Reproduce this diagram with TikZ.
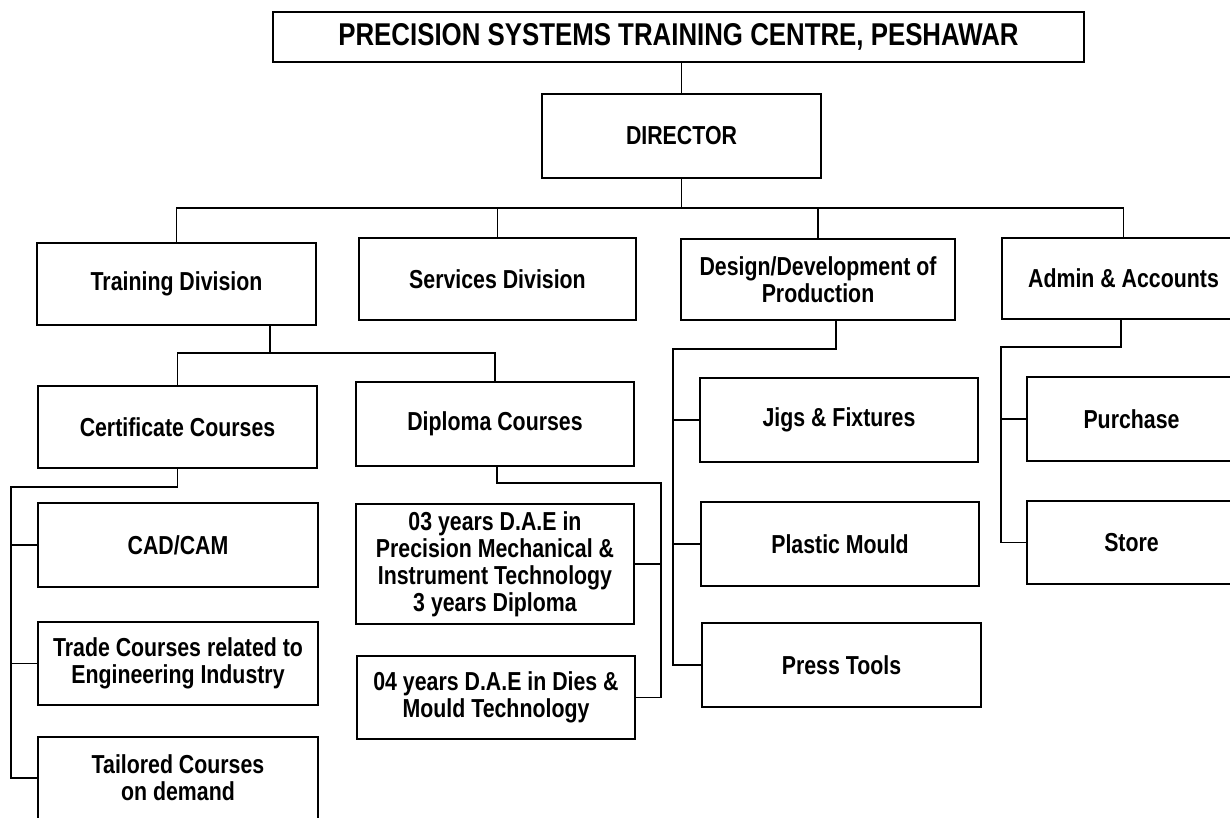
\documentclass[tikz,border=0pt]{standalone}
\usepackage{fontspec}
\setmainfont{Liberation Sans}[FakeStretch=0.82]
\begin{document}
\begin{tikzpicture}[x=1pt,y=-1pt,
  box/.style={draw, line width=1.6pt, inner sep=0pt, align=center,
    font=\bfseries\fontsize{26}{27}\selectfont},
  link/.style={line width=1.6pt}]
\path[use as bounding box, clip] (0,0) rectangle (1230,817);
\fill[white] (0,0) rectangle (1230,817);
% nodes
\node[box, minimum width=811pt, minimum height=50pt, font=\bfseries\fontsize{31.5}{33}\selectfont] (title) at (678.5,37) {PRECISION SYSTEMS TRAINING CENTRE, PESHAWAR};
\node[box, minimum width=279pt, minimum height=84pt] (director) at (681.5,136) {DIRECTOR};
\node[box, minimum width=279pt, minimum height=82pt] (training) at (176.5,284) {Training Division};
\node[box, minimum width=277pt, minimum height=82pt] (services) at (497.5,279) {Services Division};
\node[box, minimum width=274pt, minimum height=81pt] (design) at (818,279.5) {Design/Development of\\Production};
\node[box, minimum width=243pt, minimum height=81pt] (admin) at (1123.5,278.5) {Admin \& Accounts};
\node[box, minimum width=279pt, minimum height=82pt] (cert) at (177.5,427) {Certificate Courses};
\node[box, minimum width=278pt, minimum height=84pt] (dipl) at (495,424) {Diploma Courses};
\node[box, minimum width=280pt, minimum height=84pt] (cad) at (178,545) {CAD/CAM};
\node[box, minimum width=280pt, minimum height=83pt] (trade) at (178,663.5) {Trade Courses related to\\Engineering Industry};
\node[box, minimum width=280pt, minimum height=82pt] (tailored) at (178,778) {Tailored Courses\\on demand};
\node[box, minimum width=278pt, minimum height=120pt] (d03) at (495,564) {03 years D.A.E in\\Precision Mechanical \&\\Instrument Technology\\3 years Diploma};
\node[box, minimum width=278pt, minimum height=83pt] (d04) at (496,697.5) {04 years D.A.E in Dies \&\\Mould Technology};
\node[box, minimum width=278pt, minimum height=84pt] (jigs) at (839,420) {Jigs \& Fixtures};
\node[box, minimum width=278pt, minimum height=84pt] (plastic) at (840,544) {Plastic Mould};
\node[box, minimum width=279pt, minimum height=84pt] (press) at (841.5,665) {Press Tools};
\node[box, minimum width=209pt, minimum height=84pt] (purchase) at (1131.5,419) {Purchase};
\node[box, minimum width=209pt, minimum height=83pt] (store) at (1131.5,542.5) {Store};
% junction coordinates
\coordinate (b1) at (681.5,208);
\coordinate (t1) at (270,353);
\coordinate (c1) at (11,487);
\coordinate (d0) at (497,483);
\coordinate (d1) at (661,483);
\coordinate (e0) at (836,349);
\coordinate (e1) at (673,349);
\coordinate (a1) at (1001,347);
\coordinate (a0) at (1121,347);
% connectors
\draw[link] (director.north) -- (director.north |- title.south);
\draw[link] (director.south) -- (b1);
\draw[link] (training.north) -- (training.north |- b1) -- (admin.north |- b1) -- (admin.north);
\draw[link] (services.north) -- (services.north |- b1);
\draw[link] (design.north) -- (design.north |- b1);
\draw[link] (training.south -| t1) -- (t1);
\draw[link] (cert.north) -- (cert.north |- t1) -- (dipl.north |- t1) -- (dipl.north);
\draw[link] (cert.south) -- (cert.south |- c1) -- (c1) |- (tailored.west);
\draw[link] (c1 |- cad.west) -- (cad.west);
\draw[link] (c1 |- trade.west) -- (trade.west);
\draw[link] (dipl.south -| d0) -- (d0) -- (d1) |- (d04.east);
\draw[link] (d1 |- d03.east) -- (d03.east);
\draw[link] (design.south -| e0) -- (e0) -- (e1) |- (press.west);
\draw[link] (e1 |- jigs.west) -- (jigs.west);
\draw[link] (e1 |- plastic.west) -- (plastic.west);
\draw[link] (admin.south -| a0) -- (a0) -- (a1) |- (store.west);
\draw[link] (a1 |- purchase.west) -- (purchase.west);
\end{tikzpicture}
\end{document}
